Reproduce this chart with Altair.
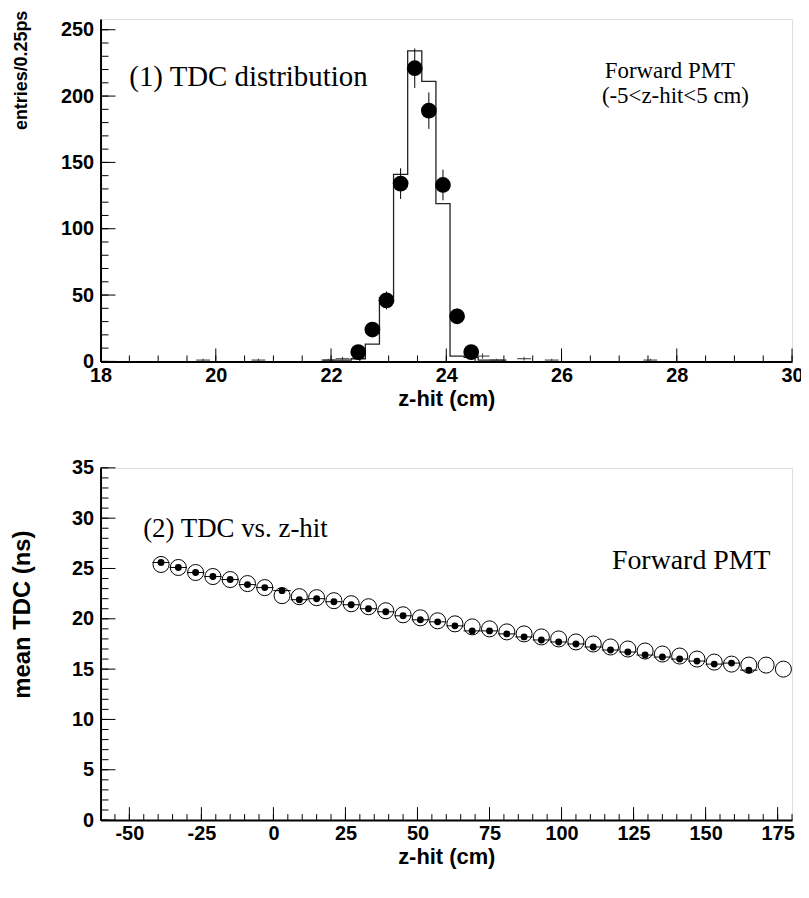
import altair as alt
import pandas as pd
import numpy as np

# ---------------- Panel 1 : TDC distribution ----------------
hist_edges = [21.86, 22.105, 22.35, 22.595, 22.84, 23.085, 23.33, 23.575,
              23.82, 24.065, 24.31, 24.555, 24.80, 25.045]
hist_counts = [1, 1, 2, 13, 48, 141, 234, 211, 119, 4, 3, 1, 1]

dot_z = [22.4725, 22.7175, 22.9625, 23.2075, 23.4525, 23.6975, 23.9425, 24.1875, 24.4325]
dot_n = [7, 24, 46, 134, 221, 189, 133, 34, 7]

cross_z = [19.78, 20.74, 21.95, 22.20, 24.63, 24.87, 25.35, 25.83, 27.54]
cross_n = [1, 1, 1, 2, 4, 1, 2, 1, 1]

# ---------------- Panel 2 : TDC vs z-hit ----------------
open_z = [-39, -33, -27, -21, -15, -9, -3, 3, 9, 15, 21, 27, 33, 39, 45, 51, 57, 63,
          69, 75, 81, 87, 93, 99, 105, 111, 117, 123, 129, 135, 141, 147, 153, 159,
          165, 171, 177]
open_tdc = [25.4, 25.1, 24.6, 24.2, 23.9, 23.5, 23.1, 22.3, 22.2, 22.1, 21.8, 21.5,
            21.2, 20.8, 20.4, 20.1, 19.8, 19.5, 19.2, 19.0, 18.7, 18.5, 18.2, 18.0,
            17.7, 17.5, 17.2, 17.0, 16.8, 16.5, 16.3, 16.0, 15.7, 15.5, 15.4, 15.4, 15.0]

filled_z = open_z[:35]
filled_tdc = [25.6, 25.1, 24.6, 24.2, 23.9, 23.4, 23.1, 22.8, 21.9, 22.0, 21.7, 21.4,
              21.0, 20.7, 20.3, 19.9, 19.7, 19.3, 18.8, 18.8, 18.5, 18.2, 17.9, 17.7,
              17.5, 17.2, 16.9, 16.7, 16.4, 16.2, 16.0, 15.8, 15.5, 15.6, 14.9]

SANS = "Liberation Sans"
SERIF = "Liberation Serif"

W = 695
H1 = 344
H2 = 354

LABEL_EXPR = "datum.value < 0 ? '-' + abs(datum.value) : '' + datum.value"


def x_axis(values):
    return alt.Axis(values=values, title="z-hit (cm)", ticks=False, grid=False,
                    domainColor="black", domainWidth=2, labelFont=SANS,
                    labelFontWeight="bold", labelFontSize=20, labelColor="black",
                    labelPadding=4, titleFont=SANS, titleFontWeight="bold",
                    titleFontSize=22, titleColor="black", titlePadding=3,
                    labelFlush=False, labelOverlap=False, labelExpr=LABEL_EXPR)


def y_axis(values, title, tsize, tx, ty):
    return alt.Axis(values=values, title=title, ticks=False, grid=False,
                    domainColor="black", domainWidth=2, labelFont=SANS,
                    labelFontWeight="bold", labelFontSize=20, labelColor="black",
                    labelPadding=7, titleFont=SANS, titleFontWeight="bold",
                    titleFontSize=tsize, titleColor="black", titleX=tx, titleY=ty,
                    labelFlush=False, labelOverlap=False)


def tick_layers(xs_major, xs_minor, ys_major, ys_minor, xsc, ysc, xax, yax, h):
    layers = []
    for vals, ln in ((xs_major, 13), (xs_minor, 6)):
        d = pd.DataFrame({"t": vals})
        layers.append(alt.Chart(d).mark_rule(color="black", strokeWidth=1).encode(
            x=alt.X("t:Q", scale=xsc, axis=xax),
            y=alt.value(h), y2=alt.value(h - ln)))
    for vals, ln in ((ys_major, 15), (ys_minor, 8)):
        d = pd.DataFrame({"t": vals})
        layers.append(alt.Chart(d).mark_rule(color="black", strokeWidth=1).encode(
            y=alt.Y("t:Q", scale=ysc, axis=yax),
            x=alt.value(0), x2=alt.value(ln)))
    return layers


# ---------- top panel ----------
xs1 = alt.Scale(domain=[18, 30], nice=False, zero=False)
ys1 = alt.Scale(domain=[0, 258], nice=False)
xa1 = x_axis(list(range(18, 31, 2)))
ya1 = y_axis(list(range(0, 251, 50)), "entries/0.25ps", 18, -70, 51)

hist_df = pd.DataFrame({"z": hist_edges, "n": hist_counts + [hist_counts[-1]]})
hist = alt.Chart(hist_df).mark_line(interpolate="step-after", color="#222222",
                                     strokeWidth=1.3).encode(
    x=alt.X("z:Q", scale=xs1, axis=xa1), y=alt.Y("n:Q", scale=ys1, axis=ya1))

dots_df = pd.DataFrame({"z": dot_z, "n": dot_n})
dots_df["lo"] = dots_df["n"] - np.sqrt(dots_df["n"])
dots_df["hi"] = dots_df["n"] + np.sqrt(dots_df["n"])
err = alt.Chart(dots_df).mark_rule(color="black", strokeWidth=1).encode(
    x=alt.X("z:Q", scale=xs1, axis=xa1), y=alt.Y("lo:Q", scale=ys1, axis=ya1), y2="hi:Q")
dots = alt.Chart(dots_df).mark_circle(color="black", opacity=1, size=250).encode(
    x=alt.X("z:Q", scale=xs1, axis=xa1), y=alt.Y("n:Q", scale=ys1, axis=ya1))

cr_df = pd.DataFrame({"z": cross_z, "n": cross_n})
cr_df["zl"] = cr_df["z"] - 0.12
cr_df["zh"] = cr_df["z"] + 0.12
cr_df["lo"] = cr_df["n"] - np.sqrt(cr_df["n"])
cr_df["hi"] = cr_df["n"] + np.sqrt(cr_df["n"])
cross_h = alt.Chart(cr_df).mark_rule(color="#333333", strokeWidth=1).encode(
    x=alt.X("zl:Q", scale=xs1, axis=xa1), x2="zh:Q", y=alt.Y("n:Q", scale=ys1, axis=ya1))
cross_v = alt.Chart(cr_df).mark_rule(color="#333333", strokeWidth=1).encode(
    x=alt.X("z:Q", scale=xs1, axis=xa1), y=alt.Y("lo:Q", scale=ys1, axis=ya1), y2="hi:Q")

txt1_df = pd.DataFrame({"z": [18.5, 26.75, 26.7], "n": [214, 219, 200],
                        "t": ["(1) TDC distribution", "Forward PMT", "(-5<z-hit<5 cm)"]})
txt1a = alt.Chart(txt1_df.iloc[[0]]).mark_text(font=SERIF, fontSize=29, align="left",
                                                baseline="middle", color="black").encode(
    x=alt.X("z:Q", scale=xs1, axis=xa1), y=alt.Y("n:Q", scale=ys1, axis=ya1), text="t:N")
txt1b = alt.Chart(txt1_df.iloc[[1, 2]]).mark_text(font=SERIF, fontSize=23, align="left",
                                                   baseline="middle", color="black").encode(
    x=alt.X("z:Q", scale=xs1, axis=xa1), y=alt.Y("n:Q", scale=ys1, axis=ya1), text="t:N")

t1 = tick_layers(list(np.arange(18, 30.01, 2)), list(np.arange(18, 30.01, 0.5)),
                 list(range(0, 251, 50)), list(range(0, 251, 10)), xs1, ys1, xa1, ya1, H1)

top = alt.layer(hist, cross_h, cross_v, err, dots, txt1a, txt1b, *t1).properties(
    width=W, height=H1)

# ---------- bottom panel ----------
xs2 = alt.Scale(domain=[-60, 180], nice=False, zero=False)
ys2 = alt.Scale(domain=[0, 35], nice=False)
xa2 = x_axis(list(range(-50, 176, 25)))
ya2 = y_axis(list(range(0, 36, 5)), "mean TDC (ns)", 24, -66, 147)

open_df = pd.DataFrame({"z": open_z, "v": open_tdc})
fill_df = pd.DataFrame({"z": filled_z, "v": filled_tdc})
fill_df["zl"] = fill_df["z"] - 3
fill_df["zh"] = fill_df["z"] + 3

opens = alt.Chart(open_df).mark_point(shape="circle", filled=False, color="black",
                                      strokeWidth=1, size=260, opacity=1).encode(
    x=alt.X("z:Q", scale=xs2, axis=xa2), y=alt.Y("v:Q", scale=ys2, axis=ya2))
fbar = alt.Chart(fill_df).mark_rule(color="black", strokeWidth=1).encode(
    x=alt.X("zl:Q", scale=xs2, axis=xa2), x2="zh:Q", y=alt.Y("v:Q", scale=ys2, axis=ya2))
fills = alt.Chart(fill_df).mark_circle(color="black", size=48, opacity=1).encode(
    x=alt.X("z:Q", scale=xs2, axis=xa2), y=alt.Y("v:Q", scale=ys2, axis=ya2))

txt2_df = pd.DataFrame({"z": [-45.2, 117.5], "v": [28.9, 25.7],
                        "t": ["(2) TDC vs. z-hit", "Forward PMT"]})
txt2a = alt.Chart(txt2_df.iloc[[0]]).mark_text(font=SERIF, fontSize=27, align="left",
                                                baseline="middle", color="black").encode(
    x=alt.X("z:Q", scale=xs2, axis=xa2), y=alt.Y("v:Q", scale=ys2, axis=ya2), text="t:N")
txt2b = alt.Chart(txt2_df.iloc[[1]]).mark_text(font=SERIF, fontSize=28, align="left",
                                                baseline="middle", color="black").encode(
    x=alt.X("z:Q", scale=xs2, axis=xa2), y=alt.Y("v:Q", scale=ys2, axis=ya2), text="t:N")

t2 = tick_layers(list(range(-50, 176, 25)), list(range(-60, 181, 5)),
                 list(range(0, 36, 5)), list(range(0, 36, 1)), xs2, ys2, xa2, ya2, H2)

bottom = alt.layer(fbar, opens, fills, txt2a, txt2b, *t2).properties(width=W, height=H2)

chart = alt.vconcat(top, bottom, spacing=107, bounds="flush").properties(
    padding={"top": -1, "left": 2, "right": -3, "bottom": 0}
).configure_view(stroke="black", strokeWidth=1.5).configure(background="white")

chart.save("out.html", embed_options={"renderer": "svg", "actions": False})
